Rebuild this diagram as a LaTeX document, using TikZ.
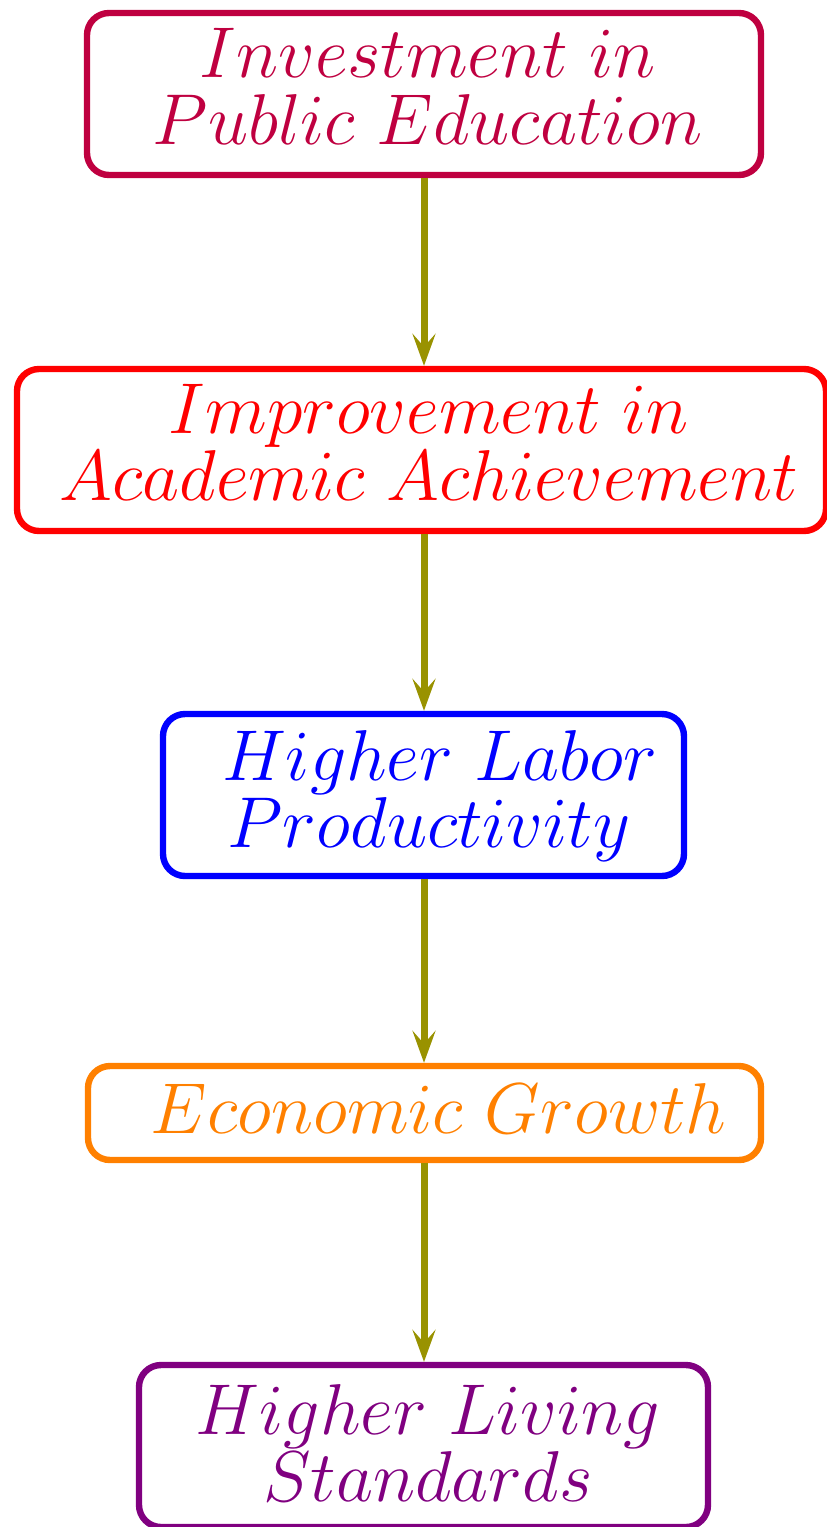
\RequirePackage{fix-cm}
\documentclass[tikz,border=0pt]{standalone}
\usetikzlibrary{arrows.meta}
\definecolor{cInvest}{rgb}{0.75,0,0.25}
\definecolor{cImprove}{rgb}{1,0,0}
\definecolor{cLabor}{rgb}{0,0,1}
\definecolor{cGrowth}{rgb}{1,0.5,0}
\definecolor{cLiving}{rgb}{0.5,0,0.5}
\definecolor{cArrow}{RGB}{153,146,0}
\tikzset{
  stagebox/.style={draw=#1, line width=3.2pt, rounded corners=11pt, inner sep=0pt},
  stagetext/.style={text=#1, align=center, inner sep=0pt,
    font=\fontsize{36}{33.5}\selectfont},
  flowarrow/.style={draw=cArrow, line width=3.5pt,
    -{Stealth[length=16pt,width=11.5pt,inset=6.5pt]}}
}
\begin{document}
\begin{tikzpicture}[x=0.5pt,y=-0.5pt]
  \useasboundingbox (0,0) rectangle (826,1527);
  % stage boxes
  \node[stagebox=cInvest,  minimum width=337pt,   minimum height=81pt] (invest)  at (424,94)    {};
  \node[stagebox=cImprove, minimum width=404.5pt, minimum height=81pt] (improve) at (421.5,450)  {};
  \node[stagebox=cLabor,   minimum width=260.5pt, minimum height=81pt] (labor)   at (423.5,795)  {};
  \node[stagebox=cGrowth,  minimum width=336.5pt, minimum height=47pt] (growth)  at (424.5,1113) {};
  \node[stagebox=cLiving,  minimum width=284.5pt, minimum height=81pt] (living)  at (423.5,1446) {};
  % stage labels
  \node[stagetext=cInvest]  (investT)  at (428,86.5)  {$Investment\ in$\\$Public\ Education$};
  \node[stagetext=cImprove] (improveT) at (429,442.5) {$Improvement\ in$\\$Academic\ Achievement$};
  \node[stagetext=cLabor]   (laborT)   at (429,795.5) {$\ Higher\ Labor$\\$Productivity$};
  \node[stagetext=cGrowth]  (growthT)  at (428,1108.5){$\ Economic\ Growth$};
  \node[stagetext=cLiving]  (livingT)  at (428,1442.5){$Higher\ Living$\\$Standards$};
  % causal chain
  \draw[flowarrow] (invest.south)  -- (invest.south |- improve.north);
  \draw[flowarrow] (improve.south -| invest.south) -- (invest.south |- labor.north);
  \draw[flowarrow] (labor.south -| invest.south)   -- (invest.south |- growth.north);
  \draw[flowarrow] (growth.south -| invest.south)  -- (invest.south |- living.north);
\end{tikzpicture}
\end{document}
